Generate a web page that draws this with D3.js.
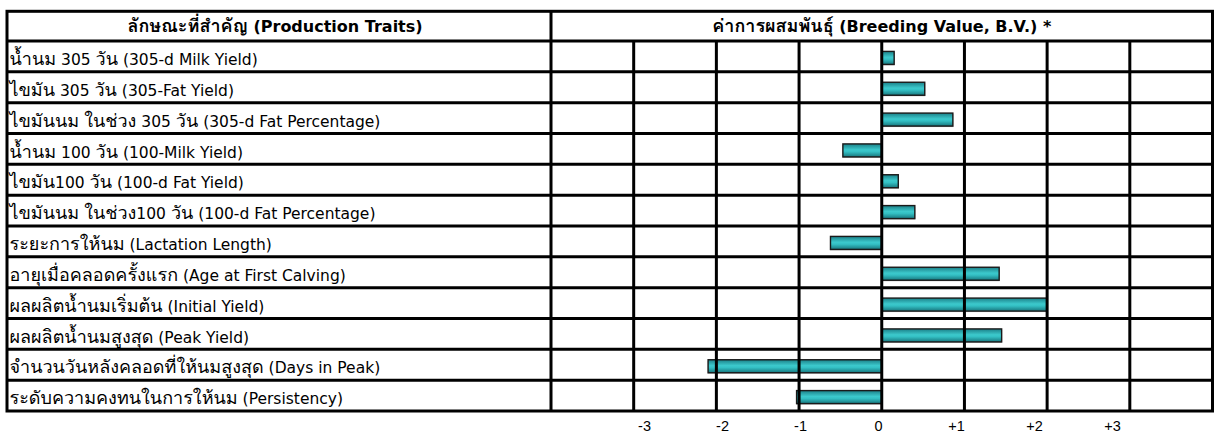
<!DOCTYPE html>
<html>
<head>
<meta charset="utf-8">
<script src="https://cdn.jsdelivr.net/npm/d3@7"></script>
<style>
  html, body { margin: 0; padding: 0; background: #fff; }
  svg { display: block; }
</style>
</head>
<body>
<svg id="chart" width="1214" height="434"></svg>
<script>
// Production traits and their breeding values (B.V.)
const traits = [
  "น้ำนม 305 วัน (305-d Milk Yield)",
  "ไขมัน 305 วัน (305-Fat Yield)",
  "ไขมันนม ในช่วง 305 วัน (305-d Fat Percentage)",
  "น้ำนม 100 วัน (100-Milk Yield)",
  "ไขมัน100 วัน (100-d Fat Yield)",
  "ไขมันนม ในช่วง100 วัน (100-d Fat Percentage)",
  "ระยะการให้นม (Lactation Length)",
  "อายุเมื่อคลอดครั้งแรก (Age at First Calving)",
  "ผลผลิตน้ำนมเริ่มต้น (Initial Yield)",
  "ผลผลิตน้ำนมสูงสุด (Peak Yield)",
  "จำนวนวันหลังคลอดที่ให้นมสูงสุด (Days in Peak)",
  "ระดับความคงทนในการให้นม (Persistency)"
];
const breedingValues = [0.15, 0.52, 0.86, -0.47, 0.20, 0.40, -0.62, 1.42, 2.00, 1.45, -2.10, -1.03];
const gridValues = [-3, -2, -1, 0, 1, 2, 3];
const tickLabels = ["-3", "-2", "-1", "0", "+1", "+2", "+3"];
const headerLeft = "ลักษณะที่สำคัญ (Production Traits)";
const headerRight = "ค่าการผสมพันธุ์ (Breeding Value, B.V.) *";

const svg = d3.select("#chart");
const FONT = "Tahoma, 'DejaVu Sans', 'Noto Sans', sans-serif";
const THAI_FONT = "Waree, Tahoma, Loma, 'Noto Sans Thai', 'DejaVu Sans', sans-serif";

// table frame
const frameLeft = 7, frameRight = 1212.5, frameTop = 11.3, headerBottom = 41, frameBottom = 411;
const divider = 551;

const x = d3.scaleLinear().domain([-4, 4]).range([divider, frameRight]);
const y = d3.scaleBand().domain(traits).range([headerBottom, frameBottom]).padding(0);

// split a label into Thai and non-Thai runs so each script gets its own sizing
function scriptRuns(str) {
  return str.match(/[\u0E00-\u0E7F]+|[^\u0E00-\u0E7F]+/g) || [];
}
function writeMixed(sel, str, size, thaiSize) {
  sel.selectAll("tspan")
    .data(scriptRuns(str))
    .join("tspan")
    .attr("font-family", d => /[\u0E00-\u0E7F]/.test(d) ? THAI_FONT : FONT)
    .attr("font-size", d => /[\u0E00-\u0E7F]/.test(d) ? thaiSize : size)
    .text(d => d);
}

// bar gradient (cylinder look)
const defs = svg.append("defs");
const grad = defs.append("linearGradient")
  .attr("id", "barFill").attr("x1", 0).attr("y1", 0).attr("x2", 0).attr("y2", 1);
grad.append("stop").attr("offset", "0%").attr("stop-color", "#1b8088");
grad.append("stop").attr("offset", "45%").attr("stop-color", "#3cc9cc");
grad.append("stop").attr("offset", "60%").attr("stop-color", "#34c0c4");
grad.append("stop").attr("offset", "100%").attr("stop-color", "#17767d");

// bars
const barH = 13;
const bars = svg.append("g");
bars.selectAll("rect.shadow")
  .data(breedingValues)
  .join("rect")
  .attr("class", "shadow")
  .attr("x", d => Math.min(x(0), x(d)) - 0.5)
  .attr("y", (d, i) => y(traits[i]) + (y.bandwidth() - barH) / 2 + 2.5)
  .attr("width", d => Math.abs(x(d) - x(0)) + 1)
  .attr("height", barH)
  .attr("fill", "#b8b8b8");
bars.selectAll("rect.bar")
  .data(breedingValues)
  .join("rect")
  .attr("class", "bar")
  .attr("x", d => Math.min(x(0), x(d)))
  .attr("y", (d, i) => y(traits[i]) + (y.bandwidth() - barH) / 2 + 1.5)
  .attr("width", d => Math.abs(x(d) - x(0)))
  .attr("height", barH)
  .attr("fill", "url(#barFill)")
  .attr("stroke", "#1a1a1a")
  .attr("stroke-width", 1.4);

// grid lines
const lines = svg.append("g").attr("stroke", "#000").attr("stroke-width", 3);
lines.selectAll("line.v")
  .data(gridValues)
  .join("line")
  .attr("class", "v")
  .attr("x1", d => x(d)).attr("x2", d => x(d))
  .attr("y1", headerBottom).attr("y2", frameBottom);
lines.selectAll("line.h")
  .data(traits.slice(1))
  .join("line")
  .attr("class", "h")
  .attr("x1", frameLeft).attr("x2", frameRight)
  .attr("y1", d => y(d)).attr("y2", d => y(d));
lines.append("line").attr("x1", frameLeft).attr("x2", frameRight).attr("y1", headerBottom).attr("y2", headerBottom);
lines.append("line").attr("x1", divider).attr("x2", divider).attr("y1", frameTop).attr("y2", frameBottom);
lines.append("rect")
  .attr("x", frameLeft).attr("y", frameTop)
  .attr("width", frameRight - frameLeft).attr("height", frameBottom - frameTop)
  .attr("fill", "none");

// headers
svg.append("text")
  .attr("x", (frameLeft + divider) / 2 - 4).attr("y", 32)
  .attr("text-anchor", "middle")
  .attr("font-weight", "bold")
  .call(writeMixed, headerLeft, 16, 18);
svg.append("text")
  .attr("x", x(0)).attr("y", 32)
  .attr("text-anchor", "middle")
  .attr("font-weight", "bold")
  .call(writeMixed, headerRight, 16, 18);

// row labels
svg.append("g").selectAll("text")
  .data(traits)
  .join("text")
  .attr("x", 9.5)
  .attr("y", d => y(d) + 24)
  .each(function (d) { d3.select(this).call(writeMixed, d, 15.5, 18); });

// value axis labels below the table
const labelX = d3.scaleLinear().domain([-3, 3]).range([644, 1112]);
const axis = d3.axisBottom(labelX)
  .tickValues(gridValues)
  .tickFormat((d, i) => tickLabels[i])
  .tickSize(0).tickPadding(1);
const axisG = svg.append("g")
  .attr("transform", "translate(0, 419.5)")
  .call(axis);
axisG.select(".domain").remove();
axisG.selectAll("text")
  .attr("font-family", "'Liberation Sans', Arial, sans-serif")
  .attr("font-size", 14.5)
  .attr("fill", "#000");
</script>
</body>
</html>
